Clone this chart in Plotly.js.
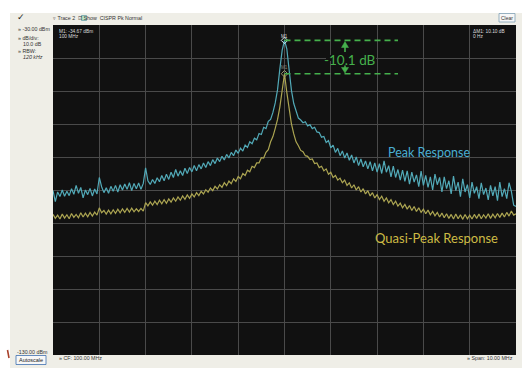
<!DOCTYPE html>
<html>
<head>
<meta charset="utf-8">
<script src="https://cdn.plot.ly/plotly-3.0.1.min.js"></script>
<style>html,body{margin:0;padding:0;background:#fff;}#chart{width:531px;height:376px;}</style>
</head>
<body>
<div id="chart"></div>
<script>
// Instrument settings
const centerFreqMHz = 100;
const spanMHz = 10;
const refLevelDbm = -30;
const dbPerDiv = 10;
const numPoints = 201;
const markerPeakDbm = -34.67;
const markerDeltaDb = -10.10;

// Peak detector trace (dBm), one value per sweep bin
const peakResponse = [
-80.2,-83.5,-80.6,-82.0,-80.0,-81.9,-80.4,-81.7,-79.6,-81.3,
-78.6,-81.0,-79.2,-82.4,-80.0,-81.4,-79.5,-81.8,-79.7,-81.2,
-76.2,-79.0,-80.8,-79.3,-81.0,-78.9,-80.4,-78.6,-80.6,-78.4,
-80.0,-78.2,-79.8,-77.8,-80.2,-78.0,-79.6,-77.9,-79.8,-78.0,
-73.3,-77.2,-78.3,-76.8,-78.0,-76.3,-77.5,-75.6,-77.2,-75.2,
-76.8,-74.6,-76.2,-73.8,-75.8,-74.2,-75.6,-73.4,-75.0,-73.2,
-74.5,-72.6,-74.2,-72.3,-73.6,-71.8,-73.2,-71.4,-72.6,-70.8,
-72.0,-70.3,-71.4,-69.8,-70.9,-69.2,-70.3,-68.6,-69.6,-67.9,
-68.9,-67.3,-68.2,-66.4,-67.1,-65.4,-66.0,-64.3,-64.8,-62.9,
-63.2,-61.0,-61.4,-59.2,-58.6,-56.5,-53.6,-49.6,-43.2,-37.6,
-34.67,-37.2,-43.6,-49.8,-53.8,-56.4,-58.2,-58.8,-59.6,-59.3,
-60.6,-60.2,-61.4,-61.0,-62.4,-62.6,-64.0,-63.8,-65.6,-65.0,
-67.2,-66.4,-68.6,-67.4,-69.6,-68.2,-70.3,-68.8,-71.0,-69.4,
-71.8,-70.0,-72.6,-70.6,-73.0,-71.2,-73.6,-71.4,-74.2,-71.8,
-74.6,-72.0,-75.0,-71.2,-74.6,-72.6,-76.0,-72.8,-76.2,-73.8,
-77.0,-74.0,-77.4,-74.2,-78.2,-74.6,-77.6,-75.4,-79.0,-74.3,
-78.6,-75.6,-79.2,-76.0,-80.0,-75.2,-78.4,-76.2,-80.6,-76.0,
-79.6,-77.2,-81.2,-75.8,-80.2,-77.6,-82.0,-76.6,-80.6,-78.4,
-82.4,-77.6,-81.0,-79.0,-82.6,-77.8,-81.4,-79.4,-83.0,-78.6,
-81.8,-79.0,-83.2,-77.6,-82.0,-79.6,-82.6,-77.8,-80.4,-84.6,
-85.0
];

// CISPR quasi-peak detector trace (dBm)
const quasiPeakResponse = [
-87.4,-88.6,-87.6,-88.8,-87.3,-88.5,-87.5,-88.7,-87.1,-88.3,
-87.4,-88.4,-86.9,-88.2,-87.0,-88.1,-86.8,-87.9,-86.7,-87.6,
-85.4,-86.9,-86.2,-87.3,-86.1,-87.2,-86.0,-87.1,-85.8,-86.9,
-85.7,-86.8,-85.6,-86.7,-85.5,-86.6,-85.7,-86.5,-85.6,-86.4,
-83.8,-84.8,-83.6,-84.6,-83.4,-84.4,-83.1,-84.2,-82.9,-84.0,
-82.7,-83.7,-82.4,-83.4,-82.1,-83.1,-81.8,-82.8,-81.5,-82.5,
-81.2,-82.1,-80.8,-81.7,-80.4,-81.2,-79.9,-80.7,-79.4,-80.2,
-78.9,-79.7,-78.4,-79.2,-77.8,-78.7,-77.3,-78.1,-76.6,-77.4,
-75.9,-76.6,-75.0,-75.6,-74.0,-74.5,-72.8,-73.2,-71.8,-71.8,
-70.2,-70.3,-68.6,-67.8,-65.4,-63.8,-61.3,-58.6,-54.8,-50.0,
-44.77,-50.4,-55.4,-60.0,-63.0,-65.4,-66.6,-68.0,-68.4,-69.6,
-69.8,-70.8,-70.6,-72.0,-71.8,-73.2,-72.8,-74.2,-73.6,-75.2,
-74.6,-76.2,-75.6,-77.0,-76.4,-77.8,-77.0,-78.6,-77.8,-79.4,
-78.4,-80.0,-79.0,-80.6,-79.6,-81.2,-80.2,-81.8,-80.8,-82.4,
-81.4,-82.9,-81.9,-83.4,-82.4,-83.9,-82.9,-84.4,-83.4,-84.9,
-84.0,-85.4,-84.4,-85.8,-84.7,-86.2,-85.0,-86.5,-85.4,-86.8,
-85.8,-87.2,-86.1,-87.5,-86.5,-87.8,-86.8,-88.2,-87.0,-88.4,
-87.2,-88.6,-87.4,-88.8,-87.3,-88.7,-87.5,-88.9,-87.4,-88.7,
-87.6,-88.8,-87.4,-88.6,-87.3,-88.7,-87.5,-88.5,-87.2,-88.6,
-87.3,-88.4,-87.1,-88.3,-87.0,-88.2,-86.8,-87.9,-86.4,-87.6,
-87.2
];

// Text labels
const seriesLabels = ["Peak Response", "Quasi-Peak Response"];
const deltaLabel = "-10.1 dB";
const uiLabels = {
  traceBar: "▿ Trace 2  ☑ Show  CISPR Pk Normal",
  ref: "» -30.00 dBm",
  dbdiv: "» dB/div:",
  dbdivVal: "10.0 dB",
  rbw: "» RBW:",
  rbwVal: "<i>120 kHz</i>",
  m1a: "M1: -34.67 dBm",
  m1b: "100 MHz",
  dm1a: "ΔM1: 10.10 dB",
  dm1b: "0 Hz",
  bottomRef: "-130.00 dBm",
  autoscale: "Autoscale",
  cf: "» CF: 100.00 MHz",
  span: "» Span: 10.00 MHz",
  clear: "Clear"
};

const startF = centerFreqMHz - spanMHz / 2;
const stopF = centerFreqMHz + spanMHz / 2;
const freqMHz = Array.from({length: numPoints}, (_, i) => startF + i * spanMHz / (numPoints - 1));
const bottomDbm = refLevelDbm - 10 * dbPerDiv;

// layout geometry helpers (pixel -> paper / data)
const L = 53, R = 516, T = 25, B = 355;
const xp = px => (px - L) / (R - L);
const yp = py => (B - py) / (B - T);
const xd = px => startF + (px - L) / ((R - L) / spanMHz);
const yd = py => refLevelDbm - (py - T) / ((B - T) / (10 * dbPerDiv));

const peakColor = "#52aab8";
const qpColor = "#aca552";
const green = "#45b04c";
const ui = {family: "Liberation Sans, Arial, sans-serif", size: 5.3, color: "#333"};

function uiText(text, px, py, opts) {
  return Object.assign({
    xref: "paper", yref: "paper", x: xp(px), y: yp(py), text: text,
    showarrow: false, xanchor: "left", yanchor: "middle",
    font: Object.assign({}, ui)
  }, opts || {});
}

const traces = [
  {x: freqMHz, y: quasiPeakResponse, type: "scatter", mode: "lines",
   line: {color: qpColor, width: 1.2}, hoverinfo: "skip", name: seriesLabels[1]},
  {x: freqMHz, y: peakResponse, type: "scatter", mode: "lines",
   line: {color: peakColor, width: 1.2}, hoverinfo: "skip", name: seriesLabels[0]},
  {x: [centerFreqMHz, centerFreqMHz], y: [markerPeakDbm, markerPeakDbm + markerDeltaDb],
   type: "scatter", mode: "markers",
   marker: {symbol: "diamond-open", size: 5, color: ["#cfe8ee", "#9a9a70"], line: {width: 1}},
   hoverinfo: "skip"}
];

const dashEnd = xd(398);
const ax = 345;
const pt = (px, py) => xd(px) + "," + yd(py);

const shapes = [
  {type: "rect", xref: "paper", yref: "paper", x0: xp(10), x1: xp(522), y0: yp(368), y1: yp(13),
   fillcolor: "#efeee7", line: {width: 0}, layer: "below"},
  {type: "rect", xref: "paper", yref: "paper", x0: 0, x1: 1, y0: 0, y1: 1,
   fillcolor: "#111111", line: {width: 0}, layer: "below"},
  {type: "rect", xref: "x", yref: "y", x0: xd(326), x1: xd(376), y0: yd(55), y1: yd(61),
   fillcolor: "#111111", line: {width: 0}, layer: "between"},
  {type: "rect", xref: "paper", yref: "paper", x0: xp(499), x1: xp(515), y0: yp(22), y1: yp(13.5),
   fillcolor: "#f7f7f7", line: {width: 0.8, color: "#7f9fb5"}},
  {type: "rect", xref: "paper", yref: "paper", x0: xp(16), x1: xp(46), y0: yp(364.5), y1: yp(355.5),
   fillcolor: "#f7f7f7", line: {width: 0.8, color: "#3d6fb0"}},
  {type: "rect", xref: "paper", yref: "paper", x0: xp(81.5), x1: xp(86.5), y0: yp(20.5), y1: yp(15.5),
   fillcolor: "#bfe8c8", line: {width: 0.6, color: "#4a8a9a"}},
  {type: "line", xref: "paper", yref: "paper", x0: xp(7.5), x1: xp(9), y0: yp(350), y1: yp(358),
   line: {width: 1.6, color: "#a8402a"}},
  {type: "line", xref: "x", yref: "y", x0: centerFreqMHz, x1: dashEnd, y0: markerPeakDbm, y1: markerPeakDbm,
   line: {color: green, width: 1.6, dash: "6px,4px"}},
  {type: "line", xref: "x", yref: "y", x0: centerFreqMHz, x1: dashEnd,
   y0: markerPeakDbm + markerDeltaDb, y1: markerPeakDbm + markerDeltaDb,
   line: {color: green, width: 1.6, dash: "6px,4px"}},
  // up arrow
  {type: "line", xref: "x", yref: "y", x0: xd(ax), x1: xd(ax), y0: yd(46), y1: yd(52),
   line: {color: green, width: 1.6}},
  {type: "path", xref: "x", yref: "y", path: "M" + pt(ax, 41.5) + " L" + pt(ax - 3.5, 47.5) + " L" + pt(ax + 3.5, 47.5) + " Z",
   fillcolor: green, line: {color: green, width: 0.5}},
  // down arrow
  {type: "line", xref: "x", yref: "y", x0: xd(ax), x1: xd(ax), y0: yd(65.5), y1: yd(69.5),
   line: {color: green, width: 1.6}},
  {type: "path", xref: "x", yref: "y", path: "M" + pt(ax, 73) + " L" + pt(ax - 3.5, 67.5) + " L" + pt(ax + 3.5, 67.5) + " Z",
   fillcolor: green, line: {color: green, width: 0.5}}
];

const annotations = [
  uiText("✓", 15, 17, {font: {family: "DejaVu Sans", size: 9, color: "#222"}}),
  uiText(uiLabels.traceBar, 51, 18),
  uiText(uiLabels.ref, 16, 29),
  uiText(uiLabels.dbdiv, 16, 38),
  uiText(uiLabels.dbdivVal, 21, 44),
  uiText(uiLabels.rbw, 16, 50.5),
  uiText(uiLabels.rbwVal, 21, 57),
  uiText(uiLabels.m1a, 57, 31, {font: {family: ui.family, size: 4.8, color: "#ddd"}}),
  uiText(uiLabels.m1b, 57, 36.5, {font: {family: ui.family, size: 4.8, color: "#ddd"}}),
  uiText(uiLabels.dm1a, 471, 31, {font: {family: ui.family, size: 4.8, color: "#ddd"}}),
  uiText(uiLabels.dm1b, 471, 36.5, {font: {family: ui.family, size: 4.8, color: "#ddd"}}),
  uiText(uiLabels.clear, 507, 18, {xanchor: "center", font: {family: ui.family, size: 5, color: "#333"}}),
  uiText(uiLabels.bottomRef, 50, 352, {xanchor: "right"}),
  uiText(uiLabels.autoscale, 31, 360, {xanchor: "center", font: {family: ui.family, size: 5.5, color: "#222"}}),
  uiText(uiLabels.cf, 57, 358.5),
  uiText(uiLabels.span, 515, 358.5, {xanchor: "right"}),
  uiText("M1", 284.5, 36, {xanchor: "center", font: {family: ui.family, size: 4.5, color: "#ddd"}}),
  uiText("M1", 284.5, 67.5, {xanchor: "center", font: {family: ui.family, size: 4.5, color: "#8a8a7a"}}),
  {xref: "x", yref: "y", x: xd(350), y: yd(59.5), text: deltaLabel,
   showarrow: false, xanchor: "center", yanchor: "middle",
   font: {family: "Lato, Open Sans, sans-serif", size: 13.5, color: green}},
  {xref: "paper", yref: "paper", x: xp(429), y: yp(152), text: seriesLabels[0], showarrow: false,
   xanchor: "center", yanchor: "middle",
   font: {family: "Lato, Open Sans, sans-serif", size: 12.5, color: "#4aaed2"}},
  {xref: "paper", yref: "paper", x: xp(436), y: yp(238), text: seriesLabels[1], showarrow: false,
   xanchor: "center", yanchor: "middle",
   font: {family: "Lato, Open Sans, sans-serif", size: 13, color: "#cdbb45"}}
];

const layout = {
  width: 531, height: 376,
  margin: {l: L, r: 531 - R, t: T, b: 376 - B, pad: 0},
  paper_bgcolor: "#ffffff",
  plot_bgcolor: "#111111",
  showlegend: false,
  xaxis: {range: [startF, stopF], dtick: 1, tick0: startF, showticklabels: false, ticks: "",
          showgrid: true, gridcolor: "#4a4a4a", gridwidth: 1, zeroline: false, showline: false, fixedrange: true},
  yaxis: {range: [bottomDbm, refLevelDbm], dtick: dbPerDiv, tick0: bottomDbm, showticklabels: false, ticks: "",
          showgrid: true, gridcolor: "#4a4a4a", gridwidth: 1, zeroline: false, showline: false, fixedrange: true},
  shapes: shapes,
  annotations: annotations
};

Plotly.newPlot("chart", traces, layout, {displayModeBar: false, staticPlot: true});
</script>
</body>
</html>
